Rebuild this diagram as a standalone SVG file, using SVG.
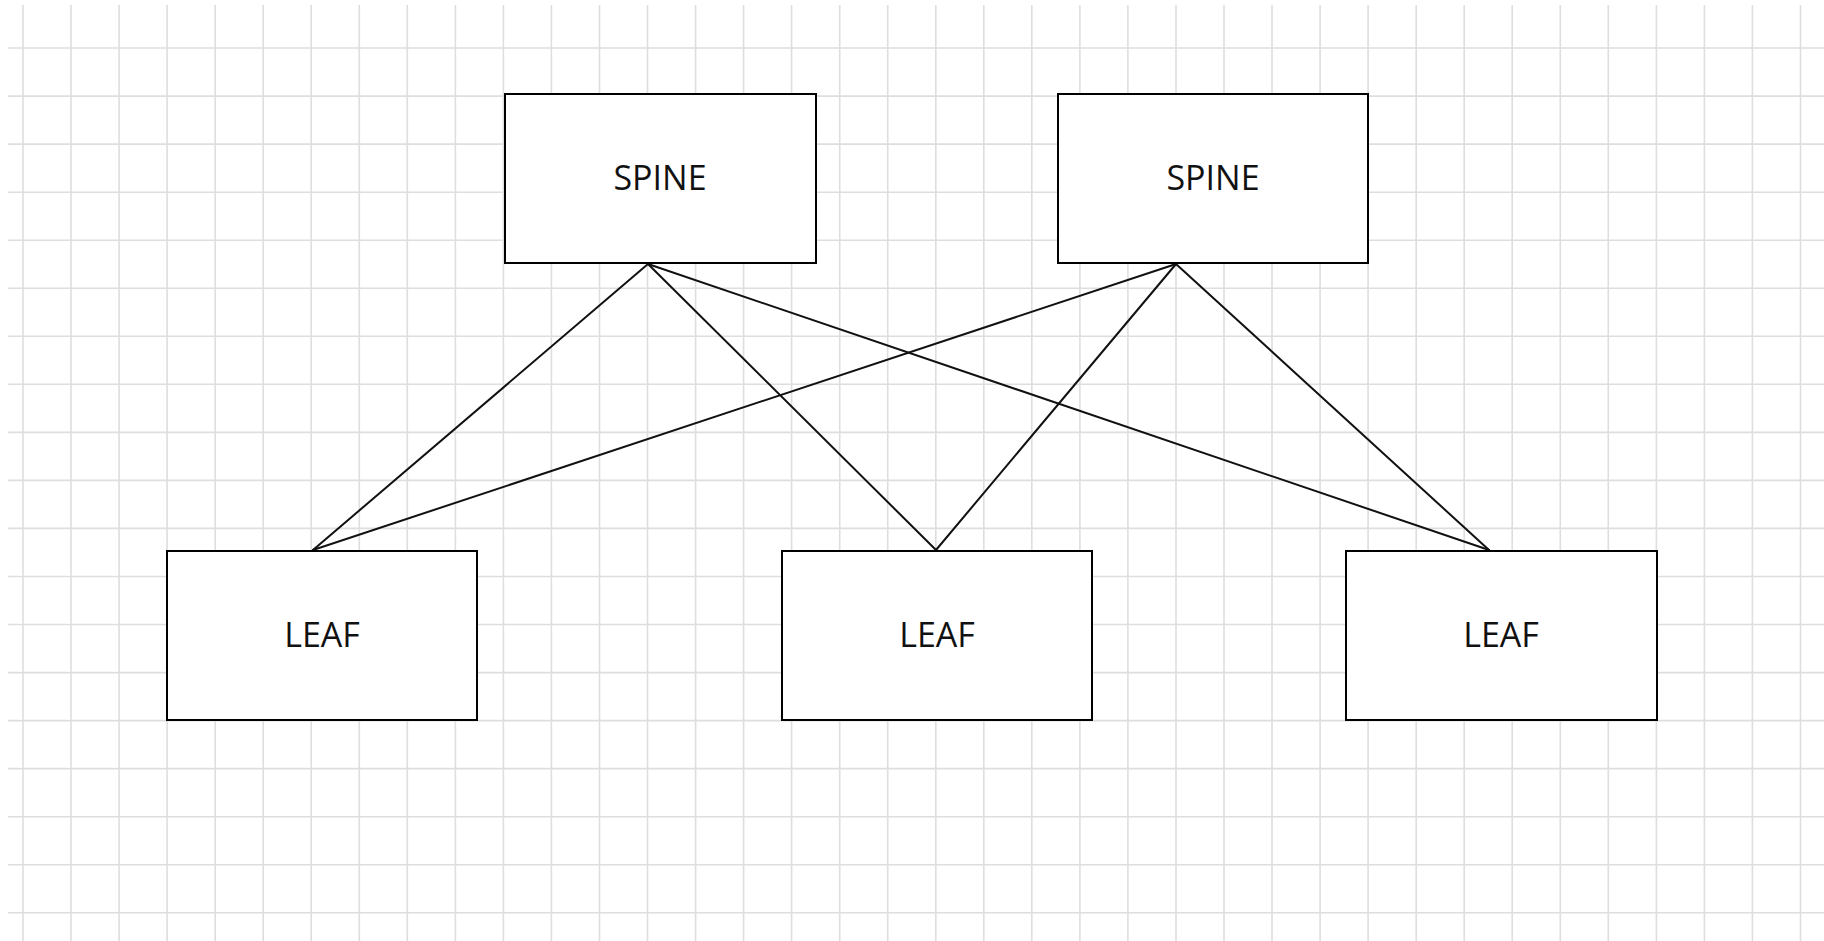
<svg xmlns="http://www.w3.org/2000/svg" width="1824" height="941" viewBox="0 0 1824 941">
  <style>
    .grid { stroke: #dedede; stroke-width: 1.6; fill: none; }
    .box { fill: #ffffff; stroke: #000000; stroke-width: 2; }
    .label { font-family: "Open Sans", "Noto Sans", sans-serif; font-size: 34px; fill: #111111; text-anchor: middle; }
    .link { stroke: #111111; stroke-width: 2; fill: none; stroke-linecap: round; }
  </style>
  <rect x="0" y="0" width="1824" height="941" fill="#ffffff"/>
  <g id="grid" class="grid">
    <path d="M23,5V941M71,5V941M119.1,5V941M167.1,5V941M215.2,5V941M263.2,5V941M311.2,5V941M359.3,5V941M407.3,5V941M455.4,5V941M503.4,5V941M551.4,5V941M599.5,5V941M647.5,5V941M695.6,5V941M743.6,5V941M791.6,5V941M839.7,5V941M887.7,5V941M935.8,5V941M983.8,5V941M1031.8,5V941M1079.9,5V941M1127.9,5V941M1176,5V941M1224,5V941M1272,5V941M1320.1,5V941M1368.1,5V941M1416.2,5V941M1464.2,5V941M1512.2,5V941M1560.3,5V941M1608.3,5V941M1656.4,5V941M1704.4,5V941M1752.4,5V941M1800.5,5V941"/>
    <path d="M8,48H1824M8,96.1H1824M8,144.1H1824M8,192.2H1824M8,240.2H1824M8,288.2H1824M8,336.3H1824M8,384.3H1824M8,432.4H1824M8,480.4H1824M8,528.4H1824M8,576.5H1824M8,624.5H1824M8,672.6H1824M8,720.6H1824M8,768.6H1824M8,816.7H1824M8,864.7H1824M8,912.8H1824"/>
  </g>
  <g id="connectors" class="link">
    <line x1="648" y1="264" x2="313" y2="550"/>
    <line x1="648" y1="264" x2="936" y2="550"/>
    <line x1="648" y1="264" x2="1489" y2="550"/>
    <line x1="1176" y1="264" x2="313" y2="550"/>
    <line x1="1176" y1="264" x2="936" y2="550"/>
    <line x1="1176" y1="264" x2="1489" y2="550"/>
  </g>
  <g id="spine1">
    <rect class="box" x="505" y="94" width="311" height="169"/>
    <text class="label" x="660" y="190">SPINE</text>
  </g>
  <g id="spine2">
    <rect class="box" x="1058" y="94" width="310" height="169"/>
    <text class="label" x="1213" y="190">SPINE</text>
  </g>
  <g id="leaf1">
    <rect class="box" x="167" y="551" width="310" height="169"/>
    <text class="label" x="322" y="647">LEAF</text>
  </g>
  <g id="leaf2">
    <rect class="box" x="782" y="551" width="310" height="169"/>
    <text class="label" x="937" y="647">LEAF</text>
  </g>
  <g id="leaf3">
    <rect class="box" x="1346" y="551" width="311" height="169"/>
    <text class="label" x="1501" y="647">LEAF</text>
  </g>
</svg>
